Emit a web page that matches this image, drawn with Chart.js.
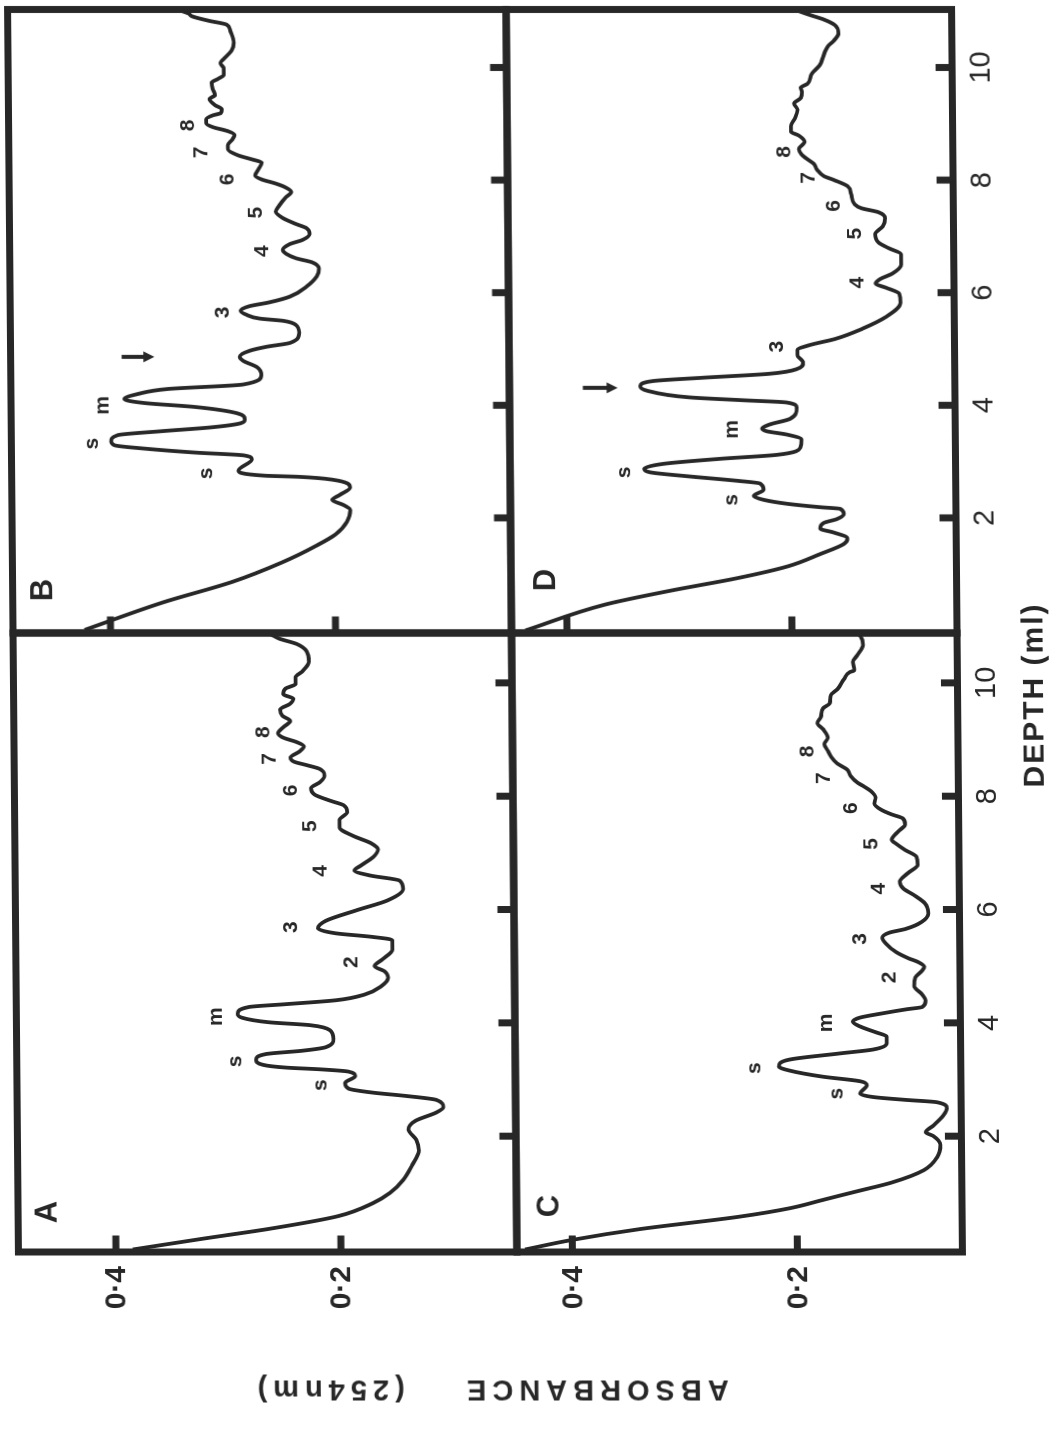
<!DOCTYPE html>
<html>
<head>
<meta charset="utf-8">
<title>Absorbance profiles</title>
<script src="https://cdn.jsdelivr.net/npm/chart.js@4.4.1/dist/chart.umd.min.js"></script>
<style>
  html, body { margin: 0; padding: 0; background: #fff; }
  body { width: 1058px; height: 1436px; overflow: hidden; position: relative; }
  /* the scanned figure is laid on its side and a little skewed */
  #scan { position: absolute; left: 0; top: 0; width: 1058px; height: 1436px; transform-origin: 0 0; transform: skewX(0.5deg); }
  #fig { position: absolute; left: 0; top: 0; width: 1436px; height: 1058px; transform-origin: 0 0; transform: translate(0, 1436px) rotate(-90deg); }
  #fig canvas { position: absolute; }
  .title { position: absolute; color: #272727; font-family: "Liberation Sans", Arial, sans-serif; font-weight: bold; white-space: pre; }
  #depthTitle { left: 741px; top: 1027px; font-size: 30px; letter-spacing: 2px; transform: translate(-50%, -50%); }
  #absTitle { left: 46px; top: 478px; font-size: 29px; letter-spacing: 6px; transform: translate(-50%, -50%) rotate(-90deg); }
</style>
</head>
<body>
<div id="scan">
  <div id="fig">
    <canvas id="chartA" width="813" height="516" style="left:0px;top:0px"></canvas>
    <canvas id="chartB" width="643" height="516" style="left:793px;top:0px"></canvas>
    <canvas id="chartC" width="813" height="562" style="left:0px;top:496px"></canvas>
    <canvas id="chartD" width="643" height="562" style="left:793px;top:496px"></canvas>
    <div class="title" id="depthTitle">DEPTH (ml)</div>
    <div class="title" id="absTitle">ABSORBANCE    (254nm)</div>
  </div>
</div>

<script>
const INK = "#272727";

// axis ticks
const depthTicks = [2, 4, 6, 8, 10];
const absTicks = [0.2, 0.4];
const absTickText = ["0·2", "0·4"];

// traces: [depth (ml), absorbance at 254 nm]
const traceA = [[0.00,0.385],[0.19,0.323],[0.37,0.262],[0.59,0.202],[0.82,0.171],[1.00,0.156],[1.23,0.144],[1.49,0.136],[1.75,0.130],[1.93,0.132],[2.12,0.139],[2.27,0.133],[2.42,0.114],[2.51,0.108],[2.64,0.114],[2.71,0.141],[2.77,0.171],[2.84,0.192],[2.94,0.195],[3.06,0.186],[3.14,0.192],[3.18,0.217],[3.21,0.247],[3.26,0.268],[3.35,0.274],[3.45,0.265],[3.51,0.232],[3.57,0.212],[3.72,0.205],[3.87,0.208],[3.96,0.226],[4.01,0.262],[4.09,0.286],[4.16,0.290],[4.28,0.280],[4.33,0.247],[4.40,0.202],[4.50,0.177],[4.65,0.162],[4.80,0.156],[4.91,0.159],[5.00,0.168],[5.12,0.161],[5.29,0.152],[5.46,0.152],[5.52,0.171],[5.58,0.202],[5.67,0.218],[5.80,0.211],[5.99,0.183],[6.16,0.156],[6.36,0.142],[6.51,0.145],[6.60,0.171],[6.69,0.185],[6.78,0.179],[6.93,0.168],[7.06,0.164],[7.17,0.170],[7.30,0.186],[7.45,0.198],[7.58,0.198],[7.72,0.191],[7.84,0.194],[7.92,0.206],[8.03,0.220],[8.14,0.223],[8.25,0.215],[8.36,0.211],[8.48,0.215],[8.55,0.227],[8.61,0.238],[8.68,0.241],[8.79,0.233],[8.88,0.229],[8.96,0.236],[9.03,0.247],[9.11,0.252],[9.22,0.247],[9.33,0.241],[9.42,0.248],[9.53,0.250],[9.63,0.241],[9.72,0.238],[9.80,0.247],[9.90,0.245],[9.98,0.236],[10.10,0.236],[10.20,0.230],[10.37,0.224],[10.56,0.226],[10.69,0.235],[10.78,0.250],[10.84,0.256],[10.93,0.265]];

const traceB = [[0.01,0.423],[0.50,0.353],[0.86,0.292],[1.21,0.247],[1.50,0.217],[1.71,0.199],[1.93,0.189],[2.14,0.186],[2.23,0.192],[2.32,0.202],[2.41,0.195],[2.54,0.186],[2.68,0.202],[2.73,0.232],[2.75,0.262],[2.84,0.285],[3.04,0.273],[3.11,0.280],[3.16,0.323],[3.23,0.368],[3.29,0.395],[3.36,0.398],[3.47,0.392],[3.54,0.353],[3.61,0.308],[3.68,0.283],[3.75,0.279],[3.86,0.286],[3.97,0.323],[4.04,0.368],[4.11,0.386],[4.20,0.374],[4.29,0.347],[4.37,0.280],[4.54,0.264],[4.68,0.268],[4.79,0.280],[4.86,0.283],[4.97,0.274],[5.04,0.259],[5.11,0.238],[5.29,0.230],[5.43,0.233],[5.50,0.244],[5.54,0.265],[5.61,0.277],[5.68,0.282],[5.76,0.274],[5.83,0.256],[5.93,0.238],[6.11,0.223],[6.29,0.214],[6.43,0.212],[6.54,0.218],[6.61,0.232],[6.69,0.241],[6.76,0.244],[6.86,0.238],[6.94,0.226],[7.04,0.220],[7.15,0.223],[7.22,0.232],[7.33,0.244],[7.44,0.250],[7.54,0.247],[7.69,0.241],[7.79,0.236],[7.87,0.241],[7.94,0.250],[8.01,0.262],[8.08,0.268],[8.19,0.265],[8.31,0.262],[8.37,0.271],[8.44,0.283],[8.55,0.292],[8.62,0.292],[8.72,0.288],[8.80,0.286],[8.87,0.292],[8.94,0.305],[9.01,0.311],[9.08,0.311],[9.15,0.305],[9.19,0.298],[9.26,0.297],[9.33,0.303],[9.44,0.308],[9.51,0.303],[9.62,0.305],[9.73,0.306],[9.80,0.300],[9.87,0.295],[9.98,0.295],[10.08,0.298],[10.15,0.295],[10.30,0.288],[10.44,0.286],[10.66,0.289],[10.76,0.292],[10.83,0.308],[10.91,0.323],[10.96,0.326],[11.08,0.345]];

const traceC = [[0.00,0.442],[0.17,0.400],[0.36,0.340],[0.58,0.251],[0.73,0.206],[0.88,0.176],[1.03,0.146],[1.18,0.116],[1.40,0.087],[1.63,0.075],[1.85,0.072],[2.00,0.078],[2.07,0.085],[2.19,0.078],[2.37,0.069],[2.49,0.066],[2.60,0.075],[2.64,0.102],[2.69,0.131],[2.75,0.143],[2.90,0.137],[2.97,0.143],[3.05,0.176],[3.16,0.206],[3.23,0.215],[3.35,0.206],[3.46,0.161],[3.53,0.131],[3.64,0.119],[3.76,0.119],[3.83,0.128],[3.94,0.143],[4.02,0.149],[4.09,0.143],[4.17,0.122],[4.24,0.101],[4.28,0.087],[4.39,0.084],[4.50,0.087],[4.65,0.094],[4.80,0.093],[4.92,0.087],[4.99,0.085],[5.07,0.090],[5.14,0.099],[5.25,0.110],[5.40,0.119],[5.50,0.122],[5.59,0.116],[5.66,0.101],[5.78,0.087],[5.93,0.081],[6.11,0.084],[6.26,0.094],[6.37,0.103],[6.49,0.106],[6.64,0.099],[6.79,0.090],[6.93,0.091],[7.05,0.101],[7.16,0.109],[7.23,0.113],[7.38,0.107],[7.50,0.101],[7.61,0.103],[7.68,0.113],[7.76,0.122],[7.87,0.128],[7.98,0.127],[8.09,0.131],[8.17,0.137],[8.24,0.143],[8.36,0.149],[8.47,0.152],[8.58,0.161],[8.69,0.166],[8.80,0.169],[8.92,0.172],[9.03,0.169],[9.18,0.173],[9.29,0.178],[9.40,0.175],[9.55,0.173],[9.64,0.167],[9.78,0.166],[9.89,0.160],[10.07,0.154],[10.19,0.149],[10.22,0.145],[10.37,0.146],[10.49,0.142],[10.67,0.137],[10.82,0.139],[10.90,0.143],[10.98,0.150]];

const traceD = [[0.00,0.437],[0.46,0.366],[0.71,0.307],[0.93,0.248],[1.14,0.203],[1.36,0.174],[1.54,0.153],[1.64,0.150],[1.74,0.162],[1.81,0.174],[1.91,0.171],[1.98,0.159],[2.07,0.153],[2.16,0.156],[2.19,0.174],[2.25,0.203],[2.32,0.224],[2.39,0.233],[2.50,0.224],[2.61,0.227],[2.66,0.248],[2.74,0.292],[2.81,0.325],[2.87,0.330],[2.96,0.313],[3.05,0.262],[3.12,0.212],[3.25,0.191],[3.39,0.190],[3.48,0.203],[3.54,0.221],[3.59,0.225],[3.66,0.218],[3.76,0.200],[3.96,0.194],[4.05,0.203],[4.09,0.242],[4.14,0.289],[4.26,0.327],[4.34,0.333],[4.43,0.322],[4.49,0.277],[4.56,0.218],[4.64,0.194],[4.76,0.188],[4.89,0.193],[4.98,0.193],[5.07,0.182],[5.18,0.159],[5.36,0.135],[5.57,0.114],[5.82,0.101],[5.98,0.102],[6.09,0.114],[6.16,0.123],[6.24,0.119],[6.34,0.108],[6.50,0.100],[6.68,0.100],[6.79,0.111],[6.89,0.120],[7.04,0.123],[7.18,0.116],[7.32,0.114],[7.43,0.120],[7.50,0.135],[7.57,0.141],[7.75,0.144],[7.89,0.147],[8.00,0.159],[8.07,0.168],[8.18,0.174],[8.29,0.177],[8.39,0.184],[8.46,0.188],[8.55,0.190],[8.68,0.185],[8.79,0.190],[8.86,0.197],[8.96,0.197],[9.11,0.193],[9.25,0.191],[9.36,0.194],[9.46,0.188],[9.57,0.187],[9.64,0.188],[9.71,0.182],[9.89,0.178],[10.04,0.171],[10.18,0.168],[10.29,0.166],[10.39,0.163],[10.46,0.159],[10.61,0.154],[10.75,0.157],[10.86,0.168],[10.93,0.179],[11.08,0.200]];

// peak annotations: [text, depth, absorbance]
const peaksA = [["s",2.90,0.217],["s",3.32,0.292],["m",4.11,0.309],["2",5.07,0.188],["3",5.69,0.242],["4",6.68,0.215],["5",7.47,0.224],["6",8.10,0.241],["7",8.66,0.259],["8",9.13,0.265]];
const peaksB = [["s",2.79,0.314],["s",3.32,0.415],["m",4.00,0.405],["3",5.65,0.298],["4",6.74,0.262],["5",7.42,0.267],["6",8.01,0.292],["7",8.49,0.315],["8",8.97,0.327]];
const peaksC = [["s",2.75,0.164],["s",3.20,0.237],["m",4.00,0.173],["2",4.80,0.116],["3",5.48,0.142],["4",6.37,0.125],["5",7.16,0.131],["6",7.79,0.149],["7",8.32,0.173],["8",8.79,0.187]];
const peaksD = [["s",2.32,0.253],["s",2.81,0.348],["m",3.57,0.252],["3",5.04,0.211],["4",6.18,0.139],["5",7.05,0.141],["6",7.54,0.159],["7",8.04,0.182],["8",8.50,0.203]];

// arrows: [depth, absorbance at tail, absorbance at tip]
const arrowB = [4.86, 0.388, 0.359];
const arrowD = [4.31, 0.384, 0.353];

const FONT = '"Liberation Sans", Arial, sans-serif';

function line(ctx, x1, y1, x2, y2) {
    ctx.beginPath();
    ctx.moveTo(x1, y1);
    ctx.lineTo(x2, y2);
    ctx.stroke();
}

// frame, inward ticks, tick labels and annotations
const panelMarks = {
    id: "panelMarks",
    afterDatasetsDraw(chart, args, opts) {
        const ctx = chart.ctx;
        const a = chart.chartArea;
        const x = chart.scales.x;
        const y = chart.scales.y;
        ctx.save();
        ctx.strokeStyle = INK;
        ctx.fillStyle = INK;

        ctx.lineWidth = 7;
        ctx.strokeRect(a.left, a.top, a.right - a.left, a.bottom - a.top);

        depthTicks.forEach(v => {
            const px = x.getPixelForValue(v);
            line(ctx, px, a.bottom, px, a.bottom - 16.5);
        });
        absTicks.forEach(v => {
            const py = y.getPixelForValue(v);
            line(ctx, a.left, py, a.left + 16.5, py);
        });

        if (opts.absLabels) {
            ctx.font = "bold 30px " + FONT;
            ctx.textAlign = "right";
            ctx.textBaseline = "middle";
            absTicks.forEach((v, i) => ctx.fillText(absTickText[i], a.left - 14, y.getPixelForValue(v) + 1));
        }
        if (opts.depthLabels) {
            ctx.font = "29px " + FONT;
            ctx.textAlign = "center";
            ctx.textBaseline = "middle";
            depthTicks.forEach(v => ctx.fillText(String(v), x.getPixelForValue(v), a.bottom + 29));
        }

        ctx.font = "bold 31px " + FONT;
        ctx.textAlign = "center";
        ctx.textBaseline = "middle";
        ctx.fillText(opts.letter, a.left + opts.letterAt[0], a.top + opts.letterAt[1]);

        ctx.font = "bold 21px " + FONT;
        opts.peaks.forEach(p => ctx.fillText(p[0], x.getPixelForValue(p[1]), y.getPixelForValue(p[2])));

        if (opts.arrow) {
            const ax = x.getPixelForValue(opts.arrow[0]);
            const y1 = y.getPixelForValue(opts.arrow[1]);
            const y2 = y.getPixelForValue(opts.arrow[2]);
            ctx.lineWidth = 4;
            line(ctx, ax, y1, ax, y2 - 9);
            ctx.beginPath();
            ctx.moveTo(ax - 5.5, y2 - 11);
            ctx.lineTo(ax + 5.5, y2 - 11);
            ctx.lineTo(ax, y2);
            ctx.closePath();
            ctx.fill();
        }
        ctx.restore();
    }
};

function makePanel(id, trace, cfg) {
    return new Chart(document.getElementById(id), {
        type: "scatter",
        data: {
            datasets: [{
                data: trace.map(p => ({ x: p[0], y: p[1] })),
                showLine: true,
                borderColor: INK,
                borderWidth: 3.8,
                pointRadius: 0,
                cubicInterpolationMode: "monotone",
                fill: false
            }]
        },
        options: {
            responsive: false,
            animation: false,
            events: [],
            layout: { padding: cfg.pad },
            scales: {
                x: { type: "linear", min: cfg.xRange[0], max: cfg.xRange[1], display: false },
                y: { type: "linear", min: cfg.yRange[0], max: cfg.yRange[1], display: false }
            },
            plugins: {
                legend: { display: false },
                tooltip: { enabled: false },
                panelMarks: cfg.marks
            }
        },
        plugins: [panelMarks]
    });
}

const depthLeft = [-0.044, 10.88];
const depthRight = [-0.044, 11.03];
const absTop = [0.0436, 0.4867];
const absBottom = [0.0533, 0.4493];

makePanel("chartA", traceA, {
    pad: { left: 184, top: 7.5, right: 10, bottom: 10 },
    xRange: depthLeft, yRange: absTop,
    marks: { letter: "A", letterAt: [40, 30], peaks: peaksA, absLabels: true, depthLabels: false }
});
makePanel("chartB", traceB, {
    pad: { left: 10, top: 7.5, right: 9.5, bottom: 10 },
    xRange: depthRight, yRange: absTop,
    marks: { letter: "B", letterAt: [43, 31], peaks: peaksB, arrow: arrowB, absLabels: false, depthLabels: false }
});
makePanel("chartC", traceC, {
    pad: { left: 184, top: 10, right: 10, bottom: 106.5 },
    xRange: depthLeft, yRange: absBottom,
    marks: { letter: "C", letterAt: [46, 33], peaks: peaksC, absLabels: true, depthLabels: true }
});
makePanel("chartD", traceD, {
    pad: { left: 10, top: 10, right: 9.5, bottom: 106.5 },
    xRange: depthRight, yRange: absBottom,
    marks: { letter: "D", letterAt: [53, 35], peaks: peaksD, arrow: arrowD, absLabels: false, depthLabels: true }
});
</script>
</body>
</html>
